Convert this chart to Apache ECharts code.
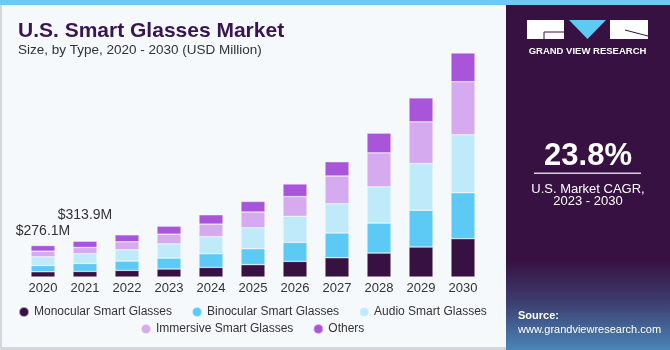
<!DOCTYPE html>
<html>
<head>
<meta charset="utf-8">
<script src="https://cdn.jsdelivr.net/npm/echarts@6/dist/echarts.min.js"></script>
<style>
  html, body { margin: 0; padding: 0; background: #f5f9fc; }
  #chart { width: 670px; height: 350px; }
</style>
</head>
<body>
<div id="chart"></div>
<script>
// values in USD million
const years = ['2020', '2021', '2022', '2023', '2024', '2025', '2026', '2027', '2028', '2029', '2030'];
const monocular = [46, 49, 58, 70, 84, 108, 137, 169, 210, 263, 336];
const binocular = [55, 70, 82, 96, 120, 140, 167, 217, 263, 322, 403];
const audio = [76, 85, 99, 125, 149, 184, 228, 257, 318, 410, 509];
const immersive = [50, 55, 70, 85, 111, 138, 173, 243, 298, 366, 465];
const others = [49, 55, 61, 70, 82, 93, 111, 125, 173, 210, 252];
const totalLabels = ['$276.1M', '$313.9M'];

const colors = ['#371142', '#5ccaf5', '#bfeaf9', '#d5aaee', '#a855d9'];
const font = '"Liberation Sans", Arial, sans-serif';

let myChart = echarts.init(document.getElementById('chart'));

function makeSeries(name, data, color) {
  return {
    name: name,
    type: 'bar',
    stack: 'total',
    barWidth: 24,
    data: data,
    itemStyle: { color: color, borderColor: 'rgba(255,255,255,0.55)', borderWidth: 0.6 }
  };
}

let series = [
  makeSeries('Monocular Smart Glasses', monocular, colors[0]),
  makeSeries('Binocular Smart Glasses', binocular, colors[1]),
  makeSeries('Audio Smart Glasses', audio, colors[2]),
  makeSeries('Immersive Smart Glasses', immersive, colors[3]),
  makeSeries('Others', others, colors[4])
];
// total labels on the first two years
series[4].data = others.map((v, i) => {
  if (i < totalLabels.length) {
    return {
      value: v,
      label: {
        show: true, position: 'top', formatter: totalLabels[i],
        offset: i === 0 ? [0, -2] : [0, -14],
        color: '#333', fontSize: 14, fontFamily: font
      }
    };
  }
  return v;
});

const legendText = { color: '#333', fontSize: 12, fontFamily: font };

myChart.setOption({
  animation: false,
  backgroundColor: '#f5f9fc',
  title: [
    {
      text: 'U.S. Smart Glasses Market',
      left: 13, top: 16,
      textStyle: { color: '#3a1450', fontSize: 21, fontWeight: 'bold', fontFamily: font }
    },
    {
      text: 'Size, by Type, 2020 - 2030 (USD Million)',
      left: 13, top: 38,
      textStyle: { color: '#333', fontSize: 13.5, fontWeight: 'normal', fontFamily: font }
    }
  ],
  legend: [
    {
      data: ['Monocular Smart Glasses', 'Binocular Smart Glasses', 'Audio Smart Glasses'],
      left: 13, top: 301,
      icon: 'circle', itemWidth: 10, itemHeight: 10, itemGap: 19,
      textStyle: legendText
    },
    {
      data: ['Immersive Smart Glasses', 'Others'],
      left: 135, top: 318,
      icon: 'circle', itemWidth: 10, itemHeight: 10, itemGap: 19,
      textStyle: legendText
    }
  ],
  grid: { left: 22, right: 186, top: 49, bottom: 73 },
  xAxis: {
    type: 'category',
    data: years,
    axisLine: { show: false },
    axisTick: { show: false },
    axisLabel: { color: '#333', fontSize: 13, fontFamily: font, margin: 5 }
  },
  yAxis: {
    type: 'value', min: 0, max: 2000,
    show: false, splitLine: { show: false }
  },
  series: series,
  graphic: [
    // top strip
    { type: 'rect', shape: { x: 0, y: 0, width: 670, height: 5 }, style: { fill: '#6ccbf0' }, z: 10 },
    // frame lines
    { type: 'rect', shape: { x: 0, y: 5, width: 2, height: 345 }, style: { fill: '#d4d8dc' }, z: 10 },
    { type: 'rect', shape: { x: 0, y: 347, width: 506, height: 3 }, style: { fill: '#d4d8dc' }, z: 10 },
    // right panel
    {
      type: 'rect', shape: { x: 506, y: 5, width: 164, height: 345 }, z: 5,
      style: {
        fill: new echarts.graphic.LinearGradient(0, 0, 0, 1, [
          { offset: 0, color: '#371142' },
          { offset: 0.74, color: '#371142' },
          { offset: 0.86, color: '#3c3d6e' },
          { offset: 1, color: '#4a86b8' }
        ])
      }
    },
    // logo
    { type: 'rect', shape: { x: 527, y: 20, width: 37, height: 19 }, style: { fill: '#fff' }, z: 11 },
    { type: 'polygon', shape: { points: [[569, 20], [606, 20], [587.5, 39]] }, style: { fill: '#5ccaf5' }, z: 11 },
    { type: 'rect', shape: { x: 610, y: 20, width: 38, height: 19 }, style: { fill: '#fff' }, z: 11 },
    { type: 'line', shape: { x1: 544, y1: 32, x2: 564, y2: 32 }, style: { stroke: '#371142', lineWidth: 1 }, z: 12 },
    { type: 'line', shape: { x1: 544, y1: 32, x2: 544, y2: 39 }, style: { stroke: '#371142', lineWidth: 1 }, z: 12 },
    { type: 'line', shape: { x1: 625, y1: 30, x2: 648, y2: 36 }, style: { stroke: '#371142', lineWidth: 1 }, z: 12 },
    {
      type: 'text', x: 587.5, y: 51, z: 11,
      style: { text: 'GRAND VIEW RESEARCH', fill: '#fff', font: 'bold 9.5px ' + font, align: 'center', verticalAlign: 'middle' }
    },
    {
      type: 'text', x: 588, y: 156, z: 11,
      style: { text: '23.8%', fill: '#fff', font: 'bold 31px ' + font, align: 'center', verticalAlign: 'middle' }
    },
    { type: 'rect', shape: { x: 534, y: 172.5, width: 107, height: 1.5 }, style: { fill: '#d8cce0' }, z: 11 },
    {
      type: 'text', x: 588, y: 189, z: 11,
      style: { text: 'U.S. Market CAGR,', fill: '#fff', font: '13px ' + font, align: 'center', verticalAlign: 'middle' }
    },
    {
      type: 'text', x: 588, y: 201, z: 11,
      style: { text: '2023 - 2030', fill: '#fff', font: '13px ' + font, align: 'center', verticalAlign: 'middle' }
    },
    {
      type: 'text', x: 518, y: 316, z: 11,
      style: { text: 'Source:', fill: '#fff', font: 'bold 11px ' + font, verticalAlign: 'middle' }
    },
    {
      type: 'text', x: 518, y: 330, z: 11,
      style: { text: 'www.grandviewresearch.com', fill: '#fff', font: '11px ' + font, verticalAlign: 'middle' }
    }
  ]
});
</script>
</body>
</html>
